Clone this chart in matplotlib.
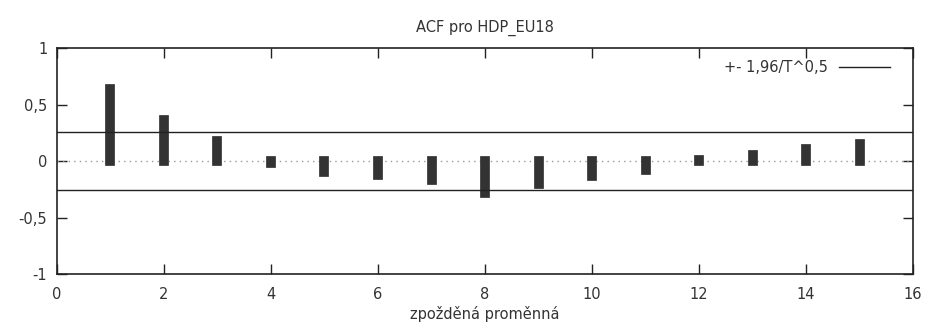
import numpy as np
import matplotlib.pyplot as plt
from matplotlib.ticker import FuncFormatter

# ACF values
lags = [1, 2, 3, 4, 5, 6, 7, 8, 9, 10, 11, 12, 13, 14, 15]
acf = [0.635, 0.365, 0.175, -0.015, -0.095, -0.12, -0.17, -0.28, -0.205,
       -0.135, -0.08, 0.005, 0.055, 0.105, 0.15]
bound = 0.26
title = "ACF pro HDP_EU18"
xlabel = "zpožděná proměnná"
legend_label = "+- 1,96/T^0,5"

plt.rcParams['font.family'] = ['DejaVu Sans']
fig = plt.figure(figsize=(9.31, 3.36), dpi=100)
ax = fig.add_axes([0.0612, 0.1845, 0.9195, 0.6726])

# zero line
ax.axhline(0, color='#999999', linestyle=(0, (1, 3)), linewidth=1)

# impulses
ln = ax.vlines(lags, 0, acf, color='#333333', linewidth=7)
ln.set_capstyle('projecting')

# confidence bounds
ax.axhline(bound, color='#222222', linewidth=1, label=legend_label)
ax.axhline(-bound, color='#222222', linewidth=1)

ax.set_xlim(0, 16)
ax.set_ylim(-1, 1)
ax.set_xticks(np.arange(0, 17, 2))
ax.set_yticks([-1, -0.5, 0, 0.5, 1])
ax.yaxis.set_major_formatter(FuncFormatter(lambda v, p: ('%g' % v).replace('.', ',')))
ax.tick_params(direction='in', length=7, width=1, top=True, right=True,
               labelsize=10.5, colors='#222222', labelcolor='#333333')
ax.tick_params(axis='x', pad=9)
ax.tick_params(axis='y', pad=7)

for s in ax.spines.values():
    s.set_linewidth(1.2)
    s.set_color('#222222')

ax.set_title(title, fontsize=10.5, color='#333333', pad=12)
ax.set_xlabel(xlabel, fontsize=10.5, color='#333333', labelpad=3)

ax.legend(loc='upper right', bbox_to_anchor=(0.988, 1.0), frameon=False,
          markerfirst=False, fontsize=10.5, handlelength=3.5,
          borderaxespad=0.45, labelcolor='#333333')

fig.savefig('out.png', dpi=100)
